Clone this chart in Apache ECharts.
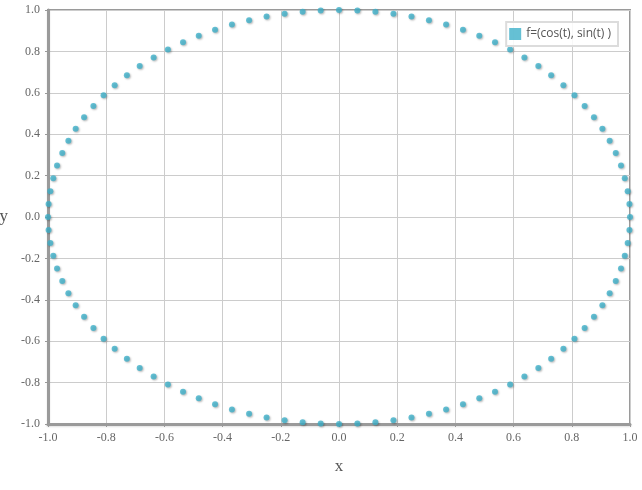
<!DOCTYPE html>
<html>
<head>
<meta charset="utf-8">
<script src="https://cdn.jsdelivr.net/npm/echarts@6/dist/echarts.min.js"></script>
<style>html,body{margin:0;padding:0;background:#fff;}#c{width:642px;height:490px;}</style>
</head>
<body>
<div id="c"></div>
<script>
const seriesName = 'f=(cos(t), sin(t) )';
const xs = [1.000,0.998,0.992,0.982,0.969,0.951,0.930,0.905,0.876,0.844,0.809,0.771,0.729,0.685,0.637,0.588,0.536,0.482,0.426,0.368,0.309,0.249,0.187,0.125,0.063,0.000,
-0.063,-0.125,-0.187,-0.249,-0.309,-0.368,-0.426,-0.482,-0.536,-0.588,-0.637,-0.685,-0.729,-0.771,-0.809,-0.844,-0.876,-0.905,-0.930,-0.951,-0.969,-0.982,-0.992,-0.998,-1.000,
-0.998,-0.992,-0.982,-0.969,-0.951,-0.930,-0.905,-0.876,-0.844,-0.809,-0.771,-0.729,-0.685,-0.637,-0.588,-0.536,-0.482,-0.426,-0.368,-0.309,-0.249,-0.187,-0.125,-0.063,0.000,
0.063,0.125,0.187,0.249,0.309,0.368,0.426,0.482,0.536,0.588,0.637,0.685,0.729,0.771,0.809,0.844,0.876,0.905,0.930,0.951,0.969,0.982,0.992,0.998];
const ys = [0.000,0.063,0.125,0.187,0.249,0.309,0.368,0.426,0.482,0.536,0.588,0.637,0.685,0.729,0.771,0.809,0.844,0.876,0.905,0.930,0.951,0.969,0.982,0.992,0.998,1.000,
0.998,0.992,0.982,0.969,0.951,0.930,0.905,0.876,0.844,0.809,0.771,0.729,0.685,0.637,0.588,0.536,0.482,0.426,0.368,0.309,0.249,0.187,0.125,0.063,0.000,
-0.063,-0.125,-0.187,-0.249,-0.309,-0.368,-0.426,-0.482,-0.536,-0.588,-0.637,-0.685,-0.729,-0.771,-0.809,-0.844,-0.876,-0.905,-0.930,-0.951,-0.969,-0.982,-0.992,-0.998,-1.000,
-0.998,-0.992,-0.982,-0.969,-0.951,-0.930,-0.905,-0.876,-0.844,-0.809,-0.771,-0.729,-0.685,-0.637,-0.588,-0.536,-0.482,-0.426,-0.368,-0.309,-0.249,-0.187,-0.125,-0.063];
const xTicks = [-1.0,-0.8,-0.6,-0.4,-0.2,0.0,0.2,0.4,0.6,0.8,1.0];
const yTicks = [-1.0,-0.8,-0.6,-0.4,-0.2,0.0,0.2,0.4,0.6,0.8,1.0];

const pts = xs.map((x, i) => [x, ys[i]]);
const chart = echarts.init(document.getElementById('c'), null, {renderer: 'canvas'});
const axisCommon = {
  type: 'value', min: xTicks[0], max: xTicks[xTicks.length-1], interval: 0.2,
  axisLine: {show: true, onZero: false, lineStyle: {color: '#9a9a9a', width: 3, shadowColor: 'rgba(0,0,0,0.12)', shadowBlur: 2, shadowOffsetY: 1}},
  axisTick: {show: true, length: 3, lineStyle: {color: '#999'}},
  splitLine: {show: true, lineStyle: {color: '#cccccc', width: 1}},
  axisLabel: {fontFamily: 'Liberation Serif', fontSize: 12, color: '#666', formatter: v => v.toFixed(1)},
  nameTextStyle: {fontFamily: 'Liberation Serif', fontSize: 17, color: '#555'}
};
chart.setOption({
  animation: false,
  grid: {left: 48, right: 12, top: 10, bottom: 66, containLabel: false, outerBoundsMode: 'none',
         show: true, borderColor: '#9a9a9a', borderWidth: 2, backgroundColor: 'transparent'},
  legend: {
    show: true, right: 24, top: 22, orient: 'vertical',
    data: [{name: seriesName, icon: 'rect'}],
    itemWidth: 12, itemHeight: 12, itemGap: 5,
    padding: [6, 7, 6, 3],
    backgroundColor: 'rgba(255,255,255,0.85)',
    borderColor: '#dcdcdc', borderWidth: 2,
    textStyle: {fontFamily: 'Open Sans', fontSize: 12, color: '#555'}
  },
  xAxis: Object.assign({}, axisCommon, {
    name: 'x', nameLocation: 'middle', nameGap: 34,
    axisLabel: Object.assign({}, axisCommon.axisLabel, {margin: 8})
  }),
  yAxis: Object.assign({}, axisCommon, {
    min: yTicks[0], max: yTicks[yTicks.length-1],
    name: 'y', nameLocation: 'middle', nameGap: 40, nameRotate: 0,
    axisLabel: Object.assign({}, axisCommon.axisLabel, {margin: 8})
  }),
  series: [{
    name: seriesName, type: 'scatter', data: pts,
    symbol: 'circle', symbolSize: 6,
    itemStyle: {color: '#3fb0c9', shadowColor: 'rgba(0,0,0,0.35)', shadowBlur: 2, shadowOffsetX: 1, shadowOffsetY: 1}
  }]
});
</script>
</body>
</html>
